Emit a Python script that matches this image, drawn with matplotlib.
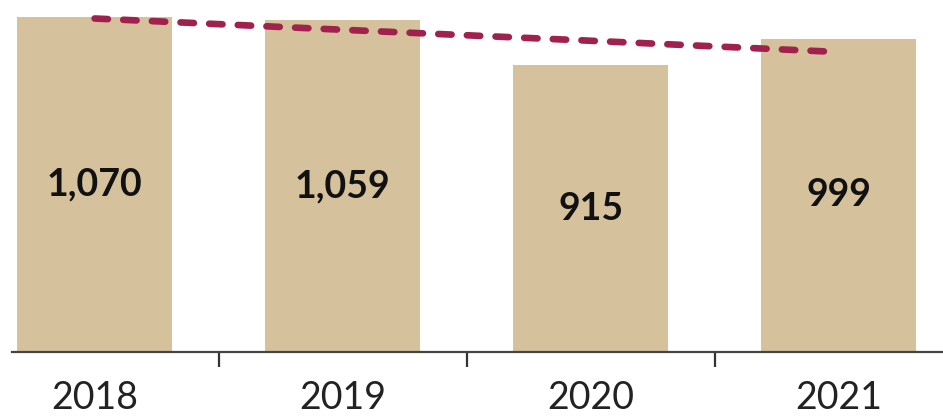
import matplotlib
matplotlib.use("Agg")
from matplotlib import pyplot as plt

# Podatki
leta = ['2018', '2019', '2020', '2021']
vrednosti = [1070, 1059, 915, 999]
oznake = ['1,070', '1,059', '915', '999']
# trendna črta (odčitano s slike)
trend = [1064, 1028, 993, 957]

plt.rcParams['font.family'] = ['Lato', 'DejaVu Sans']

fig = plt.figure(figsize=(9.43, 4.17), dpi=100)
ax = fig.add_axes([12 / 943, 65 / 417, 931 / 943, 352 / 417])

x = list(range(len(leta)))
ax.bar(x, vrednosti, width=0.625, color='#D5C19B', zorder=1)

for xi, v, t in zip(x, vrednosti, oznake):
    ax.text(xi, v / 2, t, ha='center', va='center', fontsize=27,
            fontweight='bold', color='#111111', zorder=3)

ax.plot(x, trend, color='#A0214D', linewidth=4.8, linestyle=(0, (2.0, 2.3)),
        dash_capstyle='round', zorder=2)

ax.set_xlim(-0.333, 3.42)
ax.set_ylim(0, 1123)

for s in ['top', 'right', 'left']:
    ax.spines[s].set_visible(False)
ax.spines['bottom'].set_color('#444444')
ax.spines['bottom'].set_linewidth(1.6)
ax.set_yticks([])

ax.set_xticks(x)
ax.set_xticklabels(leta, fontsize=27, color='#222222')
ax.tick_params(axis='x', which='major', length=0, pad=20)
ax.set_xticks([0.5, 1.5, 2.5], minor=True)
ax.tick_params(axis='x', which='minor', length=11, width=1.6,
               color='#333333', direction='out')

fig.savefig('out.png', dpi=100)
